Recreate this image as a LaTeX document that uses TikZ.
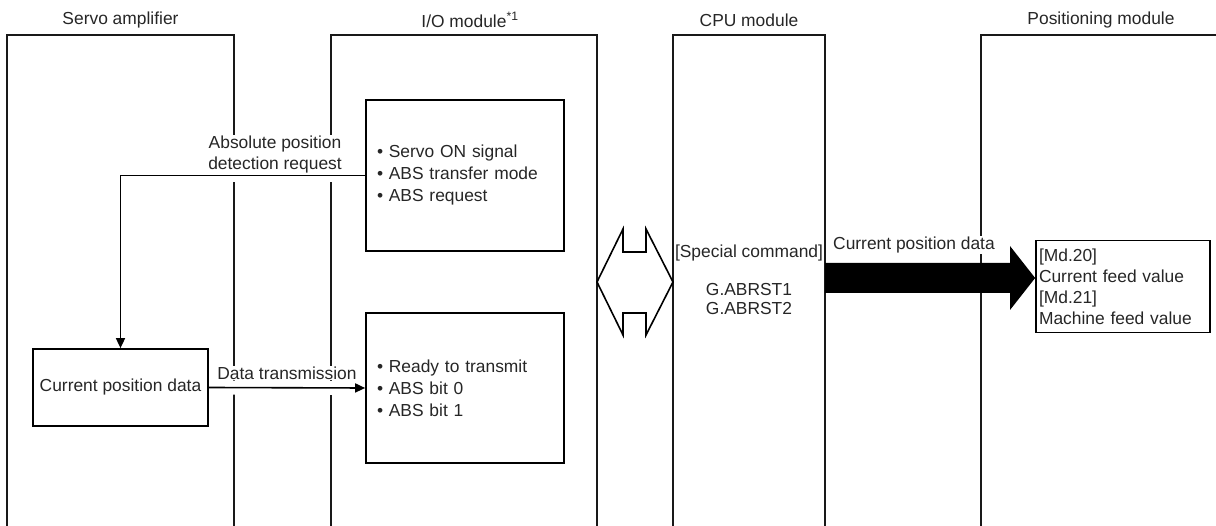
\documentclass[tikz,border=0pt]{standalone}
\usepackage{fontspec}
\setmainfont{Liberation Sans}
\usetikzlibrary{arrows.meta}
\pgfdeclarelayer{lanes}
\pgfdeclarelayer{conns}
\pgfsetlayers{lanes,conns,main}
\begin{document}
\begin{tikzpicture}[x=1pt,y=-1pt,
  txt/.style={font=\fontsize{17.4pt}{21pt}\selectfont, text=black!85, inner sep=1pt},
  lane/.style={line width=1.8pt, black!90},
  box/.style={draw, line width=1.7pt, txt, inner sep=0pt},
  conn/.style={line width=1.6pt, -{Triangle[length=10pt,width=9pt]}},
  halo/.style={draw=white, line width=14pt},
  lbl/.style={txt, fill=white, align=center}]
\useasboundingbox (0,0) rectangle (1216,526);
% headers
\node[txt] (hs) at (120.5,20) {Servo amplifier};
\node[txt] (hi) at (470,20) {I/O module\textsuperscript{*1}};
\node[txt] (hc) at (749,20) {CPU module};
\node[txt] (hp) at (1101,20) {Positioning module};
% lanes
\begin{pgfonlayer}{lanes}
\draw[lane] (7,526) -- (7,35) -- (234,35) -- (234,526);
\draw[lane] (331,526) -- (331,35) -- (597,35) -- (597,526);
\draw[lane] (673,526) -- (673,35) -- (825,35) -- (825,526);
\draw[lane] (981,526) -- (981,35) -- (1216,35);
\end{pgfonlayer}
% boxes
\node[box, minimum width=175pt, minimum height=77pt] (cur) at (120.5,387.5) {Current position data};
\node[box, minimum width=198pt, minimum height=151pt, text width=176pt, align=left,
  font=\fontsize{17.4pt}{22pt}\selectfont] (iot) at (465,175.5)
  {• Servo ON signal\\• ABS transfer mode\\• ABS request};
\node[box, minimum width=198pt, minimum height=150pt, text width=176pt, align=left,
  font=\fontsize{17.4pt}{22pt}\selectfont] (iob) at (465,388)
  {• Ready to transmit\\• ABS bit 0\\• ABS bit 1};
\node[box, minimum width=174pt, minimum height=92pt, text width=168pt, align=left] (md) at (1123,286.5)
  {[Md.20]\\Current feed value\\{}[Md.21]\\Machine feed value};
% CPU text
\node[txt] (sc) at (749,253) {[Special command]};
\node[txt, align=center, font=\fontsize{17.4pt}{19pt}\selectfont] (gab) at (749,299) {G.ABRST1\\G.ABRST2};
% connectors
\begin{pgfonlayer}{conns}
\draw[halo] (iot.west) -| (cur.north);
\draw[conn] (iot.west) -| (cur.north);
\draw[halo] (cur.east) -- (iob.west);
\draw[conn] (cur.east) -- (iob.west);
\end{pgfonlayer}
\node[lbl] (l1) at (275,155) {Absolute position\\detection request};
\node[lbl] (l2) at (287,373) {Data transmission};
% double arrow between I/O module and CPU module
\coordinate (dl) at (597,282);
\coordinate (dr) at (673,282);
\draw[line width=1.6pt, line join=miter] (dl) -- (623,229) -- (623,252) -- (646,252) -- (646,229) -- (dr)
  -- (646,335) -- (646,313) -- (623,313) -- (623,335) -- cycle;
% big arrow to positioning module
\coordinate (bs) at (825,278);
\node[lbl, anchor=west] (l3) at (832,245) {Current position data};
\fill[black] (bs) ++(0,-15) -- (1010,263) -- (1010,246) -- (md.west |- bs) -- (1010,310) -- (1010,293) -- (825,293) -- cycle;
\end{tikzpicture}
\end{document}
